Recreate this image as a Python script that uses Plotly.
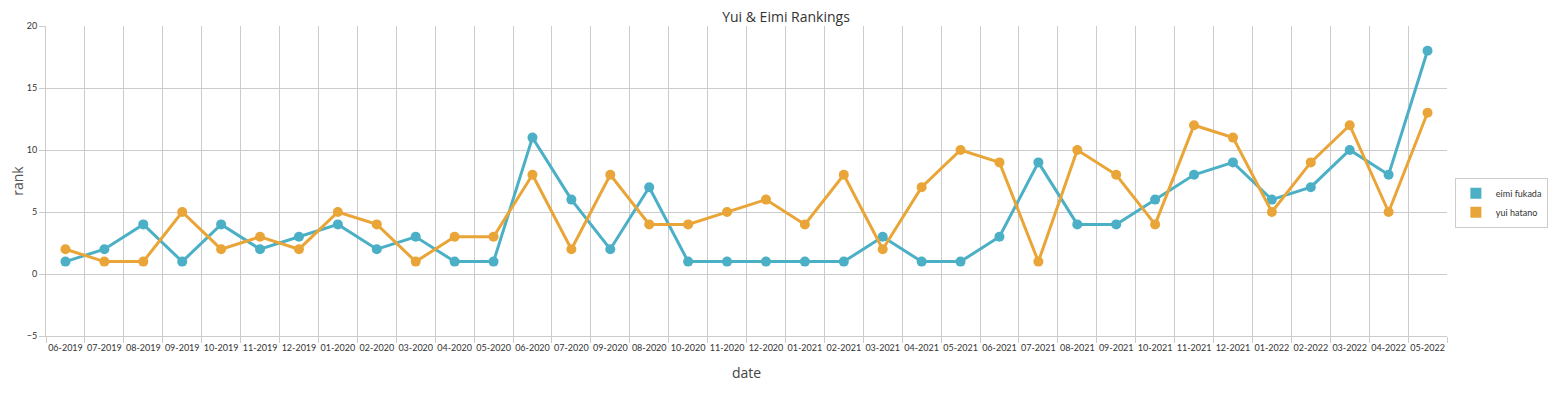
import plotly.graph_objects as go

dates = ["06-2019", "07-2019", "08-2019", "09-2019", "10-2019", "11-2019", "12-2019",
         "01-2020", "02-2020", "03-2020", "04-2020", "05-2020", "06-2020", "07-2020",
         "09-2020", "08-2020", "10-2020", "11-2020", "12-2020", "01-2021", "02-2021",
         "03-2021", "04-2021", "05-2021", "06-2021", "07-2021", "08-2021", "09-2021",
         "10-2021", "11-2021", "12-2021", "01-2022", "02-2022", "03-2022", "04-2022",
         "05-2022"]

eimi_fukada = [1, 2, 4, 1, 4, 2, 3, 4, 2, 3, 1, 1, 11, 6, 2, 7, 1, 1, 1, 1, 1,
               3, 1, 1, 3, 9, 4, 4, 6, 8, 9, 6, 7, 10, 8, 18]
yui_hatano = [2, 1, 1, 5, 2, 3, 2, 5, 4, 1, 3, 3, 8, 2, 8, 4, 4, 5, 6, 4, 8,
              2, 7, 10, 9, 1, 10, 8, 4, 12, 11, 5, 9, 12, 5, 13]

series_names = ["eimi fukada", "yui hatano"]
colors = ["#4bb0c6", "#e9a537"]

fig = go.Figure()
for name, vals, col in zip(series_names, [eimi_fukada, yui_hatano], colors):
    fig.add_trace(go.Scatter(
        x=dates, y=vals, mode="lines+markers", name=name,
        line=dict(color=col, width=3),
        marker=dict(color=col, size=10),
        showlegend=False,
    ))
for name, col in zip(series_names, colors):
    fig.add_trace(go.Scatter(
        x=[None], y=[None], mode="markers", name=name,
        marker=dict(color=col, size=11, symbol="square"),
    ))

font_family = "Lato, Open Sans, DejaVu Sans, sans-serif"
fig.update_layout(
    width=1556, height=386,
    margin=dict(l=38, r=117, t=18, b=58, autoexpand=False),
    paper_bgcolor="white", plot_bgcolor="white",
    font=dict(family=font_family, color="#333"),
    title=dict(text="Yui &amp; Eimi Rankings", x=0.5, xref="container", xanchor="center",
               y=0.99, yref="container", yanchor="top",
               font=dict(size=14, color="#333", family="Open Sans, sans-serif")),
    legend=dict(x=1.072, y=0.43, xanchor="right", yanchor="middle",
                bordercolor="#ccc", borderwidth=1, font=dict(size=9, color="#333"),
                itemwidth=30, tracegroupgap=0),
    showlegend=True,
)
fig.update_xaxes(
    type="category", categoryorder="array", categoryarray=dates,
    tickson="boundaries", ticks="outside", ticklen=6, tickcolor="#ccc",
    tickangle=0, automargin=False, ticklabelstandoff=3,
    showgrid=True, gridcolor="#ccc", gridwidth=1,
    showline=True, linecolor="#ccc", linewidth=1,
    tickfont=dict(size=9, color="#333"),
    title=dict(text="date", font=dict(size=14, color="#444", family="Open Sans, sans-serif"),
               standoff=16),
    range=[-0.5, len(dates) - 0.5],
)
fig.update_yaxes(
    range=[-5, 20], dtick=5, tick0=0,
    ticks="outside", ticklen=6, tickcolor="#ccc", automargin=False,
    showgrid=True, gridcolor="#ccc", gridwidth=1,
    showline=True, linecolor="#ccc", linewidth=1,
    zeroline=False,
    tickfont=dict(size=9, color="#333"),
    title=dict(text="rank", font=dict(size=14, color="#555", family="Open Sans, sans-serif"),
               standoff=12),
)

fig.write_html("out.html")
